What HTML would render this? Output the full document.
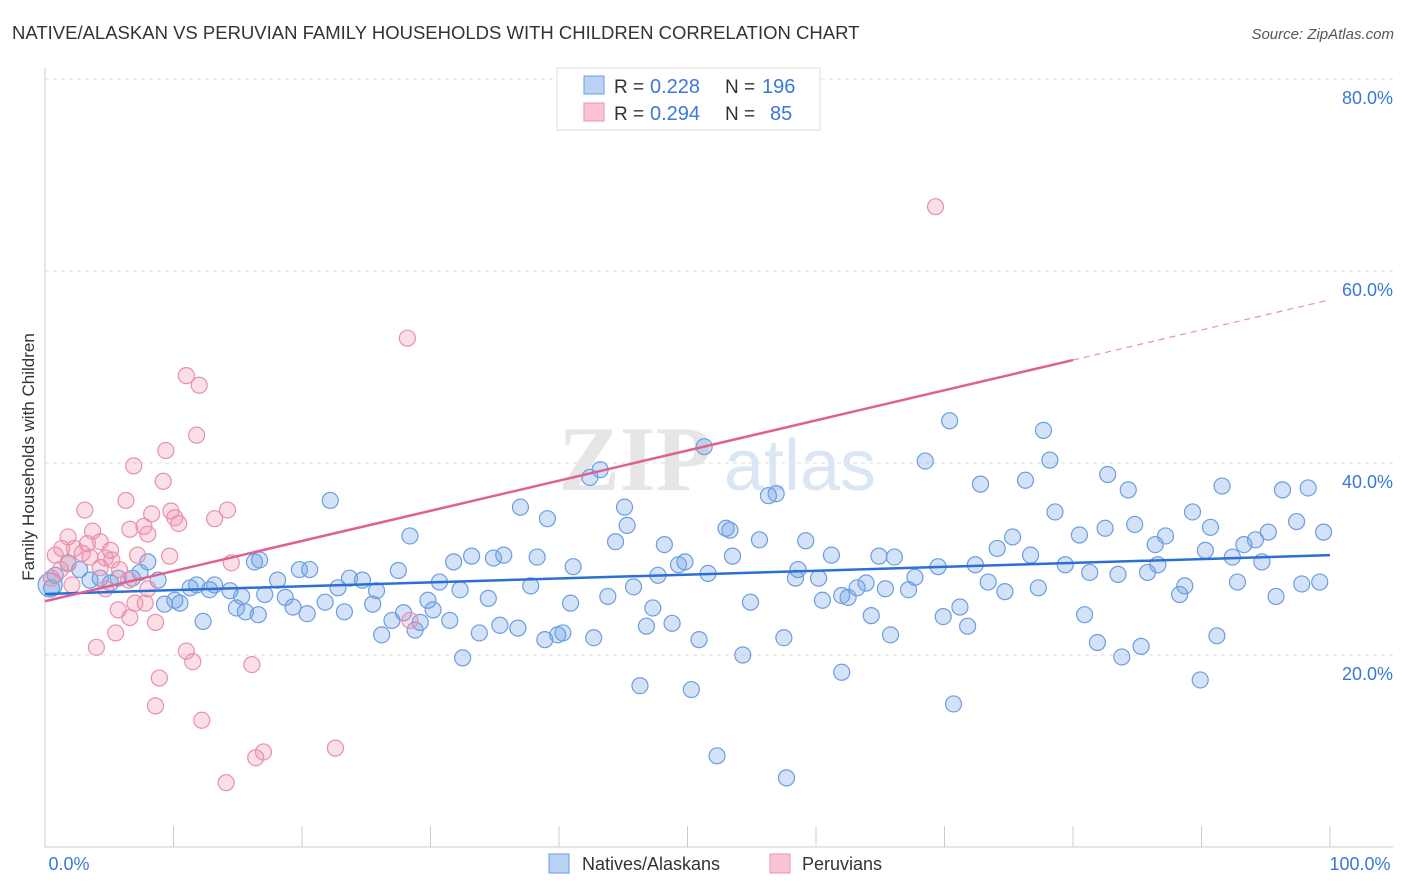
<!DOCTYPE html>
<html><head><meta charset="utf-8">
<style>
body{margin:0;background:#fff;font-family:"Liberation Sans",sans-serif;}
svg{display:block}
</style></head>
<body>
<svg id="chart" width="1406" height="892" xmlns="http://www.w3.org/2000/svg">
<text x="12" y="39" font-size="18.5" fill="#333">NATIVE/ALASKAN VS PERUVIAN FAMILY HOUSEHOLDS WITH CHILDREN CORRELATION CHART</text>
<text x="1394" y="39" font-size="15" fill="#555" font-style="italic" text-anchor="end">Source: ZipAtlas.com</text>
<g id="grid"></g>
<g>
<text x="635" y="490" font-size="92" fill="#e6e6e6" font-family="Liberation Serif,serif" text-anchor="middle" font-weight="bold">ZIP</text>
<text x="800" y="490" font-size="72" fill="#dbe6f5" text-anchor="middle">atlas</text>
</g>
<line x1="45" y1="68" x2="45" y2="847" stroke="#ccc"/>
<line x1="45" y1="847" x2="1393" y2="847" stroke="#ccc"/>
<g id="xticks"></g>
<g id="ylabels"></g>
<text x="69" y="870" font-size="18" fill="#3b78d8" text-anchor="middle">0.0%</text>
<text x="1360" y="870" font-size="18" fill="#3b78d8" text-anchor="middle">100.0%</text>
<text transform="translate(34,457) rotate(-90)" font-size="17" fill="#333" text-anchor="middle">Family Households with Children</text>
<g id="pts"></g>
<g id="lines"></g>
<g>
<rect x="557" y="68" width="263" height="62" fill="#fff" stroke="#ddd"/>
<rect x="584" y="76" width="20" height="18" fill="#b9d2f5" stroke="#6b9ee0"/>
<rect x="584" y="103" width="20" height="18" fill="#f9c5d5" stroke="#e890ad"/>
<text x="614" y="93" font-size="19" fill="#333">R =</text>
<text x="650" y="93" font-size="20" fill="#3b78d8">0.228</text>
<text x="725" y="93" font-size="19" fill="#333">N =</text>
<text x="762" y="93" font-size="20" fill="#3b78d8">196</text>
<text x="614" y="120" font-size="19" fill="#333">R =</text>
<text x="650" y="120" font-size="20" fill="#3b78d8">0.294</text>
<text x="725" y="120" font-size="19" fill="#333">N =</text>
<text x="770" y="120" font-size="20" fill="#3b78d8">85</text>
</g>
<g>
<rect x="549" y="854" width="20" height="19" fill="#b9d2f5" stroke="#6b9ee0"/>
<text x="582" y="870" font-size="18" fill="#333">Natives/Alaskans</text>
<rect x="770" y="854" width="20" height="19" fill="#f9c5d5" stroke="#e890ad"/>
<text x="802" y="870" font-size="18" fill="#333">Peruvians</text>
</g>
</svg>
<script>
const yTicks=[20,40,60,80];
const xTicks=[0,10,20,30,40,50,60,70,80,90,100];
const blueX=[22.2,28.4,37.0,39.1,43.2,42.4,45.1,45.3,44.4,51.3,53.0,53.3,56.3,56.9,55.6,59.2,70.4,68.5,72.8,77.7,78.2,76.3,82.7,84.3,78.6,80.5,82.5,84.8,87.2,89.3,91.6,96.3,98.3,99.5,97.4,95.2,94.2,93.3,90.7,90.3,86.4,86.6,75.3,74.1,76.7,79.4,81.3,83.5,85.8,72.4,69.5,67.7,64.9,66.1,65.4,63.9,63.2,62.5,62.0,61.2,60.5,60.2,58.6,58.4,53.5,51.6,49.8,49.3,48.2,47.7,45.8,43.8,41.1,38.3,35.7,34.9,33.2,31.8,30.7,32.3,27.5,24.7,23.7,22.8,21.8,20.6,19.8,18.7,18.1,17.1,16.7,16.3,15.3,15.6,14.9,14.4,13.2,12.8,11.8,11.3,10.5,10.1,9.3,8.8,8.0,7.4,6.8,5.7,5.1,4.3,3.5,2.7,1.8,0.8,0.5,12.3,16.6,19.3,20.4,23.3,25.5,25.8,26.2,27.0,27.9,28.8,29.2,29.8,30.2,31.5,32.5,33.8,34.5,35.4,36.8,37.8,38.9,39.9,40.3,40.9,42.7,46.3,46.8,47.3,48.8,50.3,50.9,52.3,54.3,54.9,57.5,57.7,62.0,64.3,65.8,67.2,69.9,70.7,71.2,71.8,73.4,74.7,77.3,80.9,81.9,83.8,85.3,88.3,88.7,89.9,91.2,92.8,95.8,97.8,99.2,94.7,92.4,0.4];
const blueY=[36.1,32.4,35.4,34.2,39.3,38.5,35.4,33.5,31.8,41.7,33.2,33.0,36.6,36.8,32.0,31.9,44.4,40.2,37.8,43.4,40.3,38.2,38.8,37.2,34.9,32.5,33.2,33.6,32.4,34.9,37.6,37.2,37.4,32.8,33.9,32.8,32.0,31.5,33.3,30.9,31.5,29.4,32.3,31.1,30.4,29.4,28.6,28.4,28.6,29.4,29.2,28.1,30.3,30.2,26.9,27.5,27.0,26.0,26.2,30.4,25.7,28.0,28.9,28.0,30.3,28.5,29.7,29.4,31.5,28.3,27.1,26.1,29.2,30.2,30.4,30.1,30.3,29.7,27.6,26.8,28.8,27.8,28.0,27.0,25.5,28.9,28.9,26.0,27.8,26.3,29.9,29.7,26.1,24.5,24.9,26.7,27.3,26.8,27.3,27.0,25.4,25.7,25.3,27.8,29.7,28.6,28.0,28.0,27.5,28.0,27.8,28.9,29.6,28.3,27.0,23.5,24.2,25.0,24.3,24.5,25.3,26.7,22.1,23.6,24.4,22.6,23.4,25.7,24.7,23.6,19.7,22.3,25.9,23.1,22.8,27.2,21.6,22.1,22.3,25.4,21.8,16.8,23.0,24.9,23.3,16.4,21.6,9.5,20.0,25.5,21.8,7.2,18.2,24.1,22.1,26.8,24.0,14.9,25.0,23.0,27.6,26.6,27.0,24.2,21.3,19.8,20.9,26.3,27.2,17.4,22.0,27.6,26.1,27.4,27.6,29.7,30.2,27.3];
const pinkX=[69.3,28.2,11.0,12.0,11.8,9.4,6.9,9.2,6.3,3.1,9.8,8.3,14.2,13.2,10.1,10.4,6.6,7.7,8.0,3.7,1.8,3.3,2.3,2.9,5.1,1.3,4.7,5.2,7.2,9.7,14.5,0.8,1.2,0.5,4.3,5.8,6.5,2.1,8.0,4.7,7.8,7.0,5.7,6.6,8.6,5.5,4.0,11.0,11.5,16.1,8.9,8.6,12.2,28.4,17.0,16.4,22.6,14.1,4.3,3.5,1.8];
const pinkY=[66.7,53.0,49.1,48.1,42.9,41.3,39.7,38.1,36.1,35.1,35.0,34.7,35.1,34.2,34.3,33.7,33.1,33.4,32.6,32.9,32.3,31.6,31.1,30.6,30.9,31.1,30.1,29.9,30.4,30.3,29.6,30.4,28.9,28.0,29.1,28.9,27.8,27.3,26.9,26.9,25.4,25.4,24.7,23.9,23.4,22.3,20.8,20.4,19.3,19.0,17.6,14.7,13.2,23.6,9.9,9.3,10.3,6.7,31.8,30.2,29.5];
const blueTrend=[26.35,30.4];
const pinkTrend=[25.6,57.0];
const pinkSolidEnd=80;
const NS="http://www.w3.org/2000/svg";
const xs=v=>45+v*12.85, ys=v=>847-v*9.6;
function mk(tag,attrs,parent){const e=document.createElementNS(NS,tag);for(const k in attrs)e.setAttribute(k,attrs[k]);parent.appendChild(e);return e;}
const grid=document.getElementById('grid'),yl=document.getElementById('ylabels'),xt=document.getElementById('xticks');
yTicks.forEach(t=>{
 const l=mk('line',{x1:45,x2:1393,y1:ys(t),y2:ys(t),stroke:'#ddd','stroke-dasharray':'4,4'},grid);
 
 
 const tx=mk('text',{x:1393,y:ys(t)+25,'font-size':18,fill:'#3b78d8','text-anchor':'end'},yl);
 tx.textContent=t.toFixed(1)+'%';
 
 
});
xTicks.forEach(t=>{
 const l=mk('line',{x1:xs(t),x2:xs(t),y1:826,y2:847,stroke:'#ccc'},xt);
 
 
});
const pts=document.getElementById('pts');
blueX.forEach((x,i)=>{
 const c=mk('circle',{cx:xs(x),cy:ys(blueY[i]),r:i==blueX.length-1?12:8,fill:'rgba(110,160,230,0.3)',stroke:'#6b9ee0','stroke-width':1.2},pts);
 
 
});
pinkX.forEach((x,i)=>{
 const c=mk('circle',{cx:xs(x),cy:ys(pinkY[i]),r:8,fill:'rgba(240,140,170,0.28)',stroke:'#e890ad','stroke-width':1.2},pts);
 
 
});
const lines=document.getElementById('lines');
const bl=mk('line',{x1:xs(0),y1:ys(blueTrend[0]),x2:xs(100),y2:ys(blueTrend[1]),stroke:'#2c6fd6','stroke-width':2.5},lines);


const pm=pinkTrend[0]+(pinkTrend[1]-pinkTrend[0])*pinkSolidEnd/100;
const pl=mk('line',{x1:xs(0),y1:ys(pinkTrend[0]),x2:xs(pinkSolidEnd),y2:ys(pm),stroke:'#e0608f','stroke-width':2.5},lines);


const pd=mk('line',{x1:xs(pinkSolidEnd),y1:ys(pm),x2:xs(100),y2:ys(pinkTrend[1]),stroke:'#e890ad','stroke-width':1.2,'stroke-dasharray':'6,5'},lines);


</script>
</body></html>
